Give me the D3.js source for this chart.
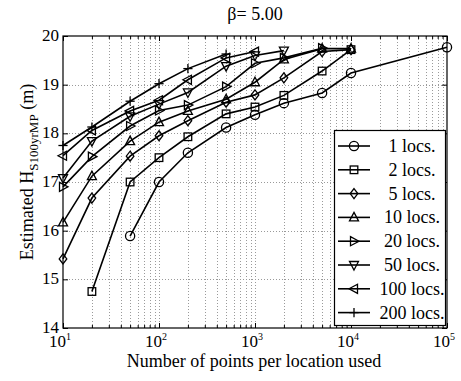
<!DOCTYPE html>
<html><head><meta charset="utf-8">
<script src="https://cdnjs.cloudflare.com/ajax/libs/d3/7.8.5/d3.min.js"></script>
<style>body{margin:0;background:#fff;} svg{display:block;} text{font-family:"Liberation Serif","Times New Roman",serif;fill:#000;}</style>
</head><body><svg id="c" width="461" height="381"></svg>
<script>
const nPoints = [10,20,50,100,200,500,1000,2000,5000,10000,100000];
const seriesNames = ["1 locs.","2 locs.","5 locs.","10 locs.","20 locs.","50 locs.","100 locs.","200 locs."];
const markers = ["circle","square","diamond","triUp","triRight","triDown","triLeft","plus"];
// values aligned with nPoints (null = no point)
const locs1   = [null,null,15.89,17.00,17.60,18.12,18.38,18.62,18.83,19.24,19.77];
const locs2   = [null,14.75,17.00,17.50,17.93,18.40,18.54,18.78,19.28,19.72,null];
const locs5   = [15.42,16.67,17.53,17.95,18.26,18.64,18.79,19.14,19.68,19.72,null];
const locs10  = [16.17,17.12,17.84,18.23,18.46,18.70,19.05,19.52,19.74,19.74,null];
const locs20  = [16.90,17.52,18.15,18.47,18.58,18.96,19.44,19.55,19.75,null,null];
const locs50  = [17.08,17.84,18.35,18.60,18.84,19.38,19.60,19.70,null,null,null];
const locs100 = [17.54,18.06,18.46,18.68,19.10,19.55,19.68,null,null,null,null];
const locs200 = [17.75,18.13,18.66,19.02,19.33,19.63,null,null,null,null,null];
const allSeries = [locs1,locs2,locs5,locs10,locs20,locs50,locs100,locs200];
const yTicks = [14,15,16,17,18,19,20];
const xTicks = [10,100,1000,10000,100000];
const title = "\u03b2= 5.00";

const svg = d3.select("#c");
const L=63,R=447,T=36,B=328;
const x = d3.scaleLog().domain([10,1e5]).range([L,R]);
const y = d3.scaleLinear().domain([14,20]).range([B,T]);

// minor x values
const minor=[];
for(let e=1;e<5;e++) for(let m=2;m<10;m++) minor.push(m*Math.pow(10,e));

const grid = svg.append("g").attr("stroke","#9a9a9a").attr("stroke-width",1).attr("stroke-dasharray","1,2");
minor.concat(xTicks.slice(1,-1)).forEach(v=>{
  grid.append("line").attr("x1",Math.round(x(v))+0.5).attr("x2",Math.round(x(v))+0.5).attr("y1",T).attr("y2",B);
});
yTicks.slice(1,-1).forEach(v=>{
  grid.append("line").attr("x1",L).attr("x2",R).attr("y1",Math.round(y(v))+0.5).attr("y2",Math.round(y(v))+0.5);
});

// axes via d3 axes (ticks inward)
const ax = svg.append("g");
ax.append("g").attr("transform",`translate(0,${B})`).call(d3.axisBottom(x).tickValues(xTicks).tickSize(-5).tickFormat(""));
ax.append("g").attr("transform",`translate(0,${B})`).call(d3.axisBottom(x).tickValues(minor).tickSize(-3).tickFormat(""));
ax.append("g").attr("transform",`translate(0,${T})`).call(d3.axisTop(x).tickValues(xTicks).tickSize(-5).tickFormat(""));
ax.append("g").attr("transform",`translate(0,${T})`).call(d3.axisTop(x).tickValues(minor).tickSize(-3).tickFormat(""));
ax.append("g").attr("transform",`translate(${L},0)`).call(d3.axisLeft(y).tickValues(yTicks).tickSize(-5).tickFormat(""));
ax.append("g").attr("transform",`translate(${R},0)`).call(d3.axisRight(y).tickValues(yTicks).tickSize(-5).tickFormat(""));
ax.selectAll(".domain").remove();
ax.selectAll("line").attr("stroke","#000");
svg.append("rect").attr("x",L).attr("y",T).attr("width",R-L).attr("height",B-T).attr("fill","none").attr("stroke","#000").attr("stroke-width",1.2);

// tick labels
yTicks.forEach(v=>{
  svg.append("text").attr("x",59).attr("y",y(v)+5).attr("text-anchor","end").attr("font-size",17).text(v);
});
xTicks.forEach(v=>{
  const t=svg.append("text").attr("x",x(v)-3).attr("y",347).attr("text-anchor","middle").attr("font-size",17).text("10");
  t.append("tspan").attr("dy",-7).attr("font-size",10).text(Math.round(Math.log10(v)));
});

// markers
function mk(g,type,cx,cy){
  const s=4.6;
  const poly=(pts)=>g.append("polygon").attr("points",pts.map(p=>[cx+p[0],cy+p[1]].join(",")).join(" ")).attr("fill","none").attr("stroke","#000").attr("stroke-width",1.3);
  if(type==="circle") g.append("circle").attr("cx",cx).attr("cy",cy).attr("r",4.6).attr("fill","none").attr("stroke","#000").attr("stroke-width",1.3);
  else if(type==="square") g.append("rect").attr("x",cx-3.8).attr("y",cy-3.8).attr("width",7.6).attr("height",7.6).attr("fill","none").attr("stroke","#000").attr("stroke-width",1.3);
  else if(type==="diamond") poly([[0,-5],[3.8,0],[0,5],[-3.8,0]]);
  else if(type==="triUp") poly([[0,-5],[4.5,3.5],[-4.5,3.5]]);
  else if(type==="triDown") poly([[0,5],[4.5,-3.5],[-4.5,-3.5]]);
  else if(type==="triRight") poly([[5,0],[-3.5,-4.5],[-3.5,4.5]]);
  else if(type==="triLeft") poly([[-5,0],[3.5,-4.5],[3.5,4.5]]);
  else if(type==="plus"){
    g.append("line").attr("x1",cx-s).attr("x2",cx+s).attr("y1",cy).attr("y2",cy).attr("stroke","#000").attr("stroke-width",1.3);
    g.append("line").attr("x1",cx).attr("x2",cx).attr("y1",cy-s).attr("y2",cy+s).attr("stroke","#000").attr("stroke-width",1.3);
  }
}

const line = d3.line().x(d=>x(d[0])).y(d=>y(d[1]));
allSeries.forEach((s,i)=>{
  const pts = nPoints.map((n,j)=>[n,s[j]]).filter(d=>d[1]!==null);
  const g=svg.append("g");
  g.append("path").attr("d",line(pts)).attr("fill","none").attr("stroke","#000").attr("stroke-width",1.6);
  pts.forEach(d=>mk(g,markers[i],x(d[0]),y(d[1])));
});

// legend
const lg=svg.append("g");
lg.append("rect").attr("x",334.5).attr("y",130.5).attr("width",111).attr("height",195).attr("fill","#fff").attr("stroke","#000").attr("stroke-width",1.2);
seriesNames.forEach((nm,i)=>{
  const yy=146+i*23.8;
  lg.append("line").attr("x1",338).attr("x2",370).attr("y1",yy).attr("y2",yy).attr("stroke","#000").attr("stroke-width",1.6);
  mk(lg,markers[i],354,yy);
  lg.append("text").attr("x",412).attr("y",yy+6).attr("text-anchor","middle").attr("font-size",18).text(nm);
});

// title & labels
svg.append("text").attr("x",255).attr("y",20).attr("text-anchor","middle").attr("font-size",18).text(title);
svg.append("text").attr("x",254).attr("y",367).attr("text-anchor","middle").attr("font-size",18).text("Number of points per location used");
const yl=svg.append("text").attr("transform","translate(33,172) rotate(-90)").attr("text-anchor","middle").attr("font-size",18);
yl.append("tspan").text("Estimated H");
yl.append("tspan").attr("dy",5).attr("font-size",13).text("S100yrMP");
yl.append("tspan").attr("dy",-5).text(" (m)");
</script></body></html>
